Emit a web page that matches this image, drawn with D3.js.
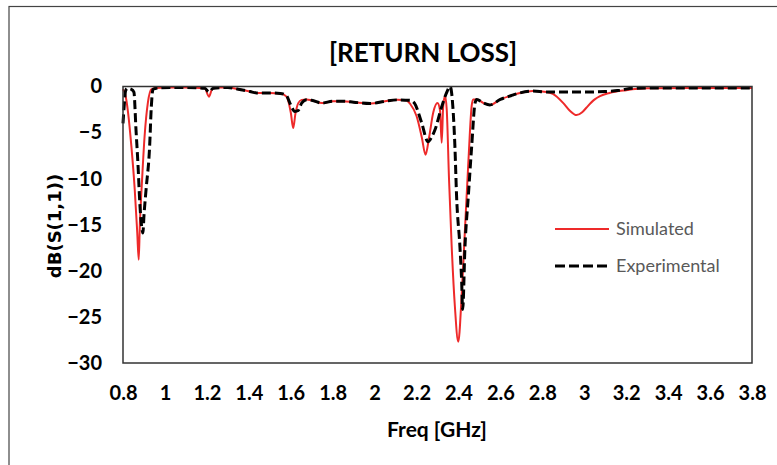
<!DOCTYPE html>
<html>
<head>
<meta charset="utf-8">
<script src="https://cdn.jsdelivr.net/npm/d3@7"></script>
<style>
  body { margin: 0; background: #fff; }
  svg { display: block; }
</style>
</head>
<body>
<svg width="777" height="465"></svg>
<script>
// frequency (GHz) / dB values
const simFreq = [0.800, 0.810, 0.824, 0.840, 0.856, 0.868, 0.875, 0.880, 0.891, 0.903, 0.919, 0.935, 0.960, 1.000, 1.100, 1.190, 1.210, 1.225, 1.250, 1.300, 1.350, 1.406, 1.437, 1.500, 1.550, 1.580, 1.600, 1.612, 1.622, 1.636, 1.652, 1.676, 1.700, 1.750, 1.800, 1.850, 1.900, 1.980, 2.050, 2.110, 2.150, 2.170, 2.200, 2.225, 2.243, 2.260, 2.280, 2.300, 2.312, 2.320, 2.327, 2.336, 2.344, 2.355, 2.367, 2.383, 2.399, 2.415, 2.431, 2.447, 2.463, 2.470, 2.487, 2.520, 2.550, 2.600, 2.650, 2.693, 2.755, 2.820, 2.850, 2.900, 2.930, 2.963, 2.990, 3.010, 3.050, 3.075, 3.120, 3.200, 3.300, 3.500, 3.800];
const simDb = [-0.3, -0.8, -2.8, -6.5, -11.2, -15.9, -18.8, -15.2, -10.1, -5.4, -1.7, -0.3, -0.15, -0.1, -0.1, -0.2, -1.1, -0.3, -0.1, -0.1, -0.3, -0.55, -0.7, -0.7, -0.75, -1.1, -2.8, -4.5, -3.0, -1.8, -1.45, -1.4, -1.5, -1.8, -1.6, -1.6, -1.7, -1.85, -1.6, -1.45, -1.5, -1.9, -3.2, -5.5, -7.4, -5.5, -2.8, -1.8, -2.6, -6.1, -2.2, -1.0, -2.5, -10.1, -17.0, -23.9, -27.7, -22.8, -15.5, -8.3, -2.1, -1.4, -1.4, -1.8, -2.0, -1.4, -1.0, -0.7, -0.5, -0.6, -0.8, -1.8, -2.6, -3.1, -2.8, -2.3, -1.4, -1.05, -0.7, -0.4, -0.2, -0.15, -0.15];

const expFreq = [0.800, 0.806, 0.812, 0.820, 0.840, 0.852, 0.862, 0.872, 0.880, 0.886, 0.895, 0.900, 0.910, 0.927, 0.935, 0.943, 0.970, 1.100, 1.190, 1.210, 1.230, 1.300, 1.350, 1.406, 1.437, 1.500, 1.550, 1.580, 1.596, 1.620, 1.636, 1.652, 1.676, 1.700, 1.750, 1.800, 1.850, 1.900, 1.980, 2.050, 2.110, 2.170, 2.190, 2.224, 2.255, 2.272, 2.288, 2.320, 2.343, 2.360, 2.375, 2.383, 2.391, 2.407, 2.415, 2.420, 2.431, 2.447, 2.463, 2.479, 2.487, 2.520, 2.550, 2.600, 2.650, 2.693, 2.755, 2.820, 3.000, 3.100, 3.170, 3.230, 3.400, 3.800];
const expDb = [-4.0, -2.0, -0.5, -0.2, -0.3, -0.6, -4.7, -8.7, -12.6, -14.5, -15.9, -14.0, -11.2, -6.5, -2.2, -0.3, -0.15, -0.1, -0.2, -0.6, -0.2, -0.1, -0.3, -0.55, -0.7, -0.7, -0.75, -1.0, -1.8, -2.7, -2.6, -1.8, -1.45, -1.5, -1.8, -1.6, -1.6, -1.7, -1.85, -1.6, -1.45, -1.5, -1.8, -3.9, -6.0, -5.5, -4.7, -2.2, -0.7, 0.0, -2.8, -6.5, -11.9, -17.4, -21.0, -24.2, -17.4, -11.9, -6.5, -1.8, -1.4, -1.8, -2.0, -1.4, -1.0, -0.7, -0.5, -0.6, -0.6, -0.55, -0.4, -0.2, -0.15, -0.15];

const xTicks = [0.8, 1, 1.2, 1.4, 1.6, 1.8, 2, 2.2, 2.4, 2.6, 2.8, 3, 3.2, 3.4, 3.6, 3.8];
const yTicks = [0, -5, -10, -15, -20, -25, -30];

const seriesNames = ["Simulated", "Experimental"];

window.onload = () => {
  const svg = d3.select("svg");
  const left = 123, right = 752, top = 86.5, bottom = 363;

  // outer chart border (right / bottom run off the picture)
  svg.append("rect")
    .attr("x", 9).attr("y", 6.5)
    .attr("width", 800).attr("height", 500)
    .attr("fill", "none").attr("stroke", "#444").attr("stroke-width", 1.2);

  const x = d3.scaleLinear().domain([0.8, 3.8]).range([left, right]);
  const y = d3.scaleLinear().domain([-30, 0]).range([bottom, top]);

  const sim = simFreq.map((f, i) => ({ f: f, v: simDb[i] }));
  const exp = expFreq.map((f, i) => ({ f: f, v: expDb[i] }));

  const line = d3.line()
    .x(d => x(d.f))
    .y(d => y(d.v))
    .curve(d3.curveMonotoneX);

  svg.append("path")
    .datum(sim)
    .attr("d", line)
    .attr("fill", "none")
    .attr("stroke", "#ee2a2a")
    .attr("stroke-width", 2);

  svg.append("path")
    .datum(exp)
    .attr("d", line)
    .attr("fill", "none")
    .attr("stroke", "#000")
    .attr("stroke-width", 3)
    .attr("stroke-dasharray", "9,4");

  // plot frame
  svg.append("rect")
    .attr("x", left).attr("y", top)
    .attr("width", right - left).attr("height", bottom - top)
    .attr("fill", "none").attr("stroke", "#333").attr("stroke-width", 1.5);

  const tickFont = g => g.selectAll("text")
    .attr("font-family", "Lato, 'Open Sans', sans-serif")
    .attr("font-weight", "bold")
    .attr("font-size", 20)
    .attr("fill", "#000");

  const xAxis = svg.append("g")
    .attr("transform", `translate(0,${bottom})`)
    .call(d3.axisBottom(x).tickValues(xTicks).tickSize(0).tickPadding(23)
      .tickFormat(d => +d.toFixed(1)));
  xAxis.select(".domain").remove();
  xAxis.call(tickFont);

  const yAxis = svg.append("g")
    .attr("transform", `translate(${left},0)`)
    .call(d3.axisLeft(y).tickValues(yTicks).tickSize(0).tickPadding(21));
  yAxis.select(".domain").remove();
  yAxis.call(tickFont);

  svg.append("text")
    .attr("x", 423).attr("y", 62)
    .attr("text-anchor", "middle")
    .attr("font-family", "Lato, 'Open Sans', sans-serif")
    .attr("font-weight", "bold")
    .attr("font-size", 26)
    .text("[RETURN LOSS]");

  svg.append("text")
    .attr("x", 437).attr("y", 437)
    .attr("text-anchor", "middle")
    .attr("font-family", "Lato, 'Open Sans', sans-serif")
    .attr("font-weight", "bold")
    .attr("font-size", 21)
    .text("Freq [GHz]");

  svg.append("text")
    .attr("transform", "translate(61,226) rotate(-90)")
    .attr("text-anchor", "middle")
    .attr("font-family", "'DejaVu Sans', sans-serif")
    .attr("font-weight", "bold")
    .attr("font-size", 18)
    .text("dB(S(1,1))");

  // legend
  const legend = svg.append("g");
  const legY = [229, 266];
  legend.append("line")
    .attr("x1", 555).attr("x2", 609).attr("y1", legY[0]).attr("y2", legY[0])
    .attr("stroke", "#ee2a2a").attr("stroke-width", 2);
  legend.append("line")
    .attr("x1", 555).attr("x2", 610).attr("y1", legY[1]).attr("y2", legY[1])
    .attr("stroke", "#000").attr("stroke-width", 3).attr("stroke-dasharray", "10,4");
  legend.selectAll("text")
    .data(seriesNames)
    .enter()
    .append("text")
    .attr("x", 616)
    .attr("y", (d, i) => legY[i] + 6)
    .attr("font-family", "Lato, 'Open Sans', sans-serif")
    .attr("font-size", 18)
    .attr("fill", "#595959")
    .text(d => d);
};
</script>
</body>
</html>
